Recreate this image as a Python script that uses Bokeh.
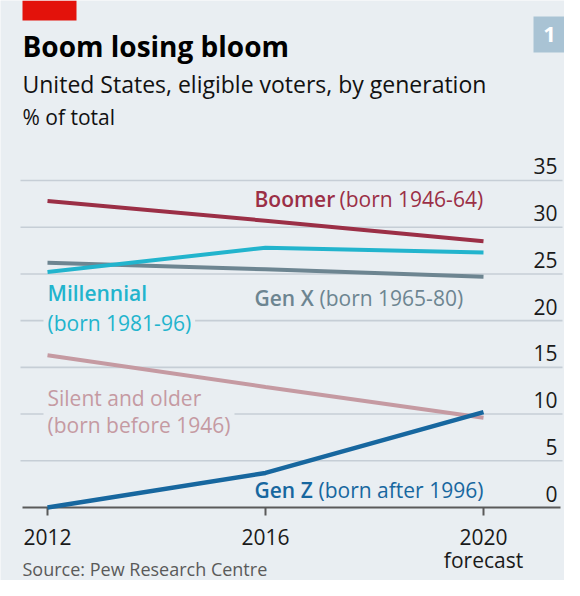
from bokeh.plotting import figure
from bokeh.models import Range1d
from bokeh.core.properties import value
from bokeh.embed import file_html
from bokeh.resources import INLINE

# ---- data ----
years = [2012, 2016, 2020]
boomer = [32.8, 30.7, 28.5]
millennial = [25.2, 27.8, 27.3]
genx = [26.2, 25.5, 24.7]
silent = [16.3, 12.9, 9.6]
genz = [0.0, 3.7, 10.2]
y_ticks = [0, 5, 10, 15, 20, 25, 30, 35]
y_tick_labels = ["0", "5", "10", "15", "20", "25", "30", "35"]
x_ticks = [2012, 2016, 2020]
x_tick_labels = ["2012", "2016", "2020"]

# ---- layout helpers (reference pixel -> data) ----
W, H = 564, 580
KX, KY = 54.5, 9.343
X0 = 2012 - (55 - 8) / KX
YT = (515 - 8) / KY
def fx(px):
    return X0 + (px - 8) / KX
def fy(py):
    return YT - (py - 8) / KY

BSHIFT = 0.37  # baseline correction (fraction of font size)

BG = "#e9eef2"
GRID = "#c6ced6"
FONT = value("Open Sans")
SEMI = value("Open Sans SemiBold, Open Sans")
C_BOOM = "#9b2f46"
C_MIL = "#22b4cd"
C_GX = "#6d8591"
C_SIL = "#c59aa2"
C_GZ = "#17679f"

p = figure(width=W, height=H, output_backend="svg", toolbar_location=None,
           x_range=Range1d(X0, X0 + W / KX), y_range=Range1d(YT - H / KY, YT),
           x_axis_location=None, y_axis_location=None, min_border=0,
           background_fill_color=BG, border_fill_color=BG, outline_line_color=None)
p.xgrid.visible = False
p.ygrid.visible = False

# gridlines
gx0, gx1 = fx(28), fx(570)
p.segment(x0=[gx0] * (len(y_ticks) - 1), x1=[gx1] * (len(y_ticks) - 1),
          y0=y_ticks[1:], y1=y_ticks[1:], line_color=GRID, line_width=1.6)
# zero axis line
p.segment(x0=[fx(30)], x1=[fx(568)], y0=[y_ticks[0]], y1=[y_ticks[0]],
          line_color="#5a5a5a", line_width=2.2)
# x ticks
p.segment(x0=x_ticks, x1=x_ticks, y0=[0] * 3, y1=[-8 / KY] * 3,
          line_color="#5a5a5a", line_width=2)

# y tick labels
p.text(x=[fx(565)] * len(y_ticks), y=y_ticks, text=y_tick_labels,
       y_offset=-6 - round(BSHIFT * 21),
       text_align="right", text_baseline="alphabetic", text_font=FONT,
       text_font_size="21px", text_color="#1a1a1a")
# x tick labels
p.text(x=x_ticks, y=[0] * 3, text=x_tick_labels, y_offset=37 - round(BSHIFT * 21),
       text_align="center", text_baseline="alphabetic", text_font=FONT,
       text_font_size="21px", text_color="#1a1a1a")
p.text(x=[x_ticks[-1]], y=[0], text=["forecast"], y_offset=60 - round(BSHIFT * 21),
       text_align="center", text_baseline="alphabetic", text_font=FONT,
       text_font_size="21px", text_color="#1a1a1a")

# text helper
def lab(px, py, txt, color, bold=False, semi=False, bg=None, size=21):
    kw = {}
    xo = 0
    if bg:
        kw = dict(background_fill_color=bg, padding=4)
        xo = -4
    p.text(x=[fx(px)], y=[fy(py)], text=[txt], text_align="left",
           x_offset=xo, y_offset=-round(BSHIFT * size),
           text_baseline="alphabetic", text_font=SEMI if semi else FONT,
           text_font_size=f"{size}px", text_color=color,
           text_font_style="bold" if bold else "normal", **kw)

lab(262, 214, "Boomer", C_BOOM, semi=True)
lab(347, 214, "(born 1946-64)", C_BOOM)
lab(262, 313, "Gen X", C_GX, semi=True)
lab(327, 313, "(born 1965-80)", C_GX)
lab(55, 308, "Millennial", C_MIL, semi=True)
lab(55, 338, "(born 1981-96)", C_MIL, bg=BG)
lab(55, 413, "Silent and older", C_SIL)
lab(55, 440, "(born before 1946)", C_SIL, bg=BG)
lab(262, 505, "Gen Z", C_GZ, semi=True)
lab(326, 505, "(born after 1996)", C_GZ)

# data lines
p.line(years, silent, line_color=C_SIL, line_width=4)
p.line(years, genx, line_color=C_GX, line_width=4)
p.line(years, millennial, line_color=C_MIL, line_width=4)
p.line(years, boomer, line_color=C_BOOM, line_width=4)
p.line(years, genz, line_color=C_GZ, line_width=4.5)

# header
p.quad(left=[fx(30)], right=[fx(84)], top=[fy(8)], bottom=[fy(28)],
       fill_color="#e3120b", line_color=None)
p.quad(left=[fx(541)], right=[fx(573)], top=[fy(24)], bottom=[fy(60)],
       fill_color="#a9c3d4", line_color=None)
p.text(x=[fx(557)], y=[fy(42)], text=["1"], text_align="center",
       text_baseline="middle", text_font=FONT, text_font_style="bold",
       text_font_size="22px", text_color="white")
lab(30, 63, "Boom losing bloom", "#000000", bold=True, size=28)
lab(30, 100, "United States, eligible voters, by generation", "#111111", size=23)
lab(30, 132, "% of total", "#111111", size=21)
lab(30, 583, "Source: Pew Research Centre", "#5a5a5a", size=18)

open("out.html", "w").write(file_html(p, INLINE))
